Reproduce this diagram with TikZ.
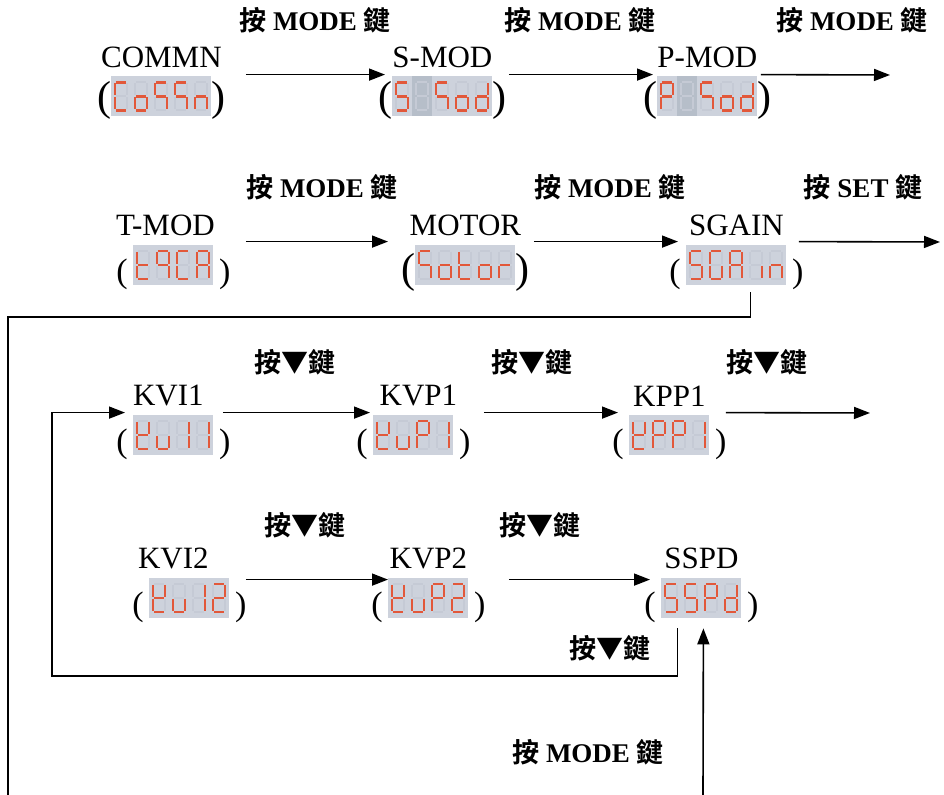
\documentclass[tikz,border=0pt]{standalone}
\usepackage{fontspec}
\setmainfont{Liberation Serif}
\newfontfamily\cjk[BoldFont={Noto Sans CJK TC Bold}]{Noto Sans CJK TC}
\usetikzlibrary{positioning,arrows.meta}

\definecolor{lcdback}{RGB}{205,210,220}
\definecolor{lcddark}{RGB}{182,190,201}
\definecolor{segred}{RGB}{226,88,58}
\definecolor{segdim}{RGB}{197,202,213}

\tikzset{
  lcd/.style={fill=lcdback, inner sep=0pt, minimum height=20pt, anchor=west},
  segon/.style={draw=segred, line width=1.4pt},
  segoff/.style={draw=segdim, line width=1pt},
  tag/.style={font=\fontsize{15.5}{17}\selectfont, inner sep=0pt},
  bigparen/.style={font=\fontsize{21}{23}\selectfont, inner sep=0pt, yshift=-2pt},
  paren/.style={font=\fontsize{17}{19}\selectfont, inner sep=0pt, yshift=-4.5pt},
  keylab/.style={font=\bfseries\fontsize{13.5}{15}\selectfont, inner sep=0pt},
  arr/.style={line width=0.8pt, -{Triangle[length=8pt,width=6pt]}},
  link/.style={line width=0.8pt}
}

% one segment of a digit
\newcommand{\segpath}[2]{%
  \if#1a\draw[#2] (-5,-14) -- (5,-14);\fi
  \if#1b\draw[#2] (6,-13) -- (6,-1);\fi
  \if#1c\draw[#2] (6,1) -- (6,13);\fi
  \if#1d\draw[#2] (-5,14) -- (5,14);\fi
  \if#1e\draw[#2] (-6,1) -- (-6,13);\fi
  \if#1f\draw[#2] (-6,-13) -- (-6,-1);\fi
  \if#1g\draw[#2] (-5,0) -- (5,0);\fi}
\def\segblank{x}
% one digit: centre, lit segments
\newcommand{\segchar}[2]{%
  \edef\seglist{#2}%
  \begin{scope}[shift={#1}]
    \ifx\seglist\segblank \fill[lcddark] (-10,-20) rectangle (10,20);\fi
    \foreach \s in {a,b,c,d,e,f,g} {\segpath{\s}{segoff}}
    \foreach \s in \seglist {\segpath{\s}{segon}}
  \end{scope}}
% digits of a display node
\newcommand{\segdisp}[2]{%
  \begin{scope}[shift={(#1.west)}]
    \foreach \c [count=\i] in {#2} {\segchar{(\i*20-10,0)}{\c}}
  \end{scope}}
\newcommand{\presskey}[1]{{\cjk 按} #1 {\cjk 鍵}}

\begin{document}
\begin{tikzpicture}[x=0.5pt,y=-0.5pt]
\useasboundingbox (0,0) rectangle (944,795);

%first row
\node[lcd, minimum width=50pt] (commn) at (111,96.5) {};
\segdisp{commn}{{a,d,e,f},{c,d,e,g},{a,c,f,g},{a,c,f,g},{c,e,g}}
\node[tag, above=4pt of commn] (commntag) {COMMN};
\node[bigparen, left=-0.5pt of commn] (commnl) {(};
\node[bigparen, right=-0.5pt of commn] (commnr) {)};

\node[lcd, minimum width=50pt] (smod) at (392,96.5) {};
\segdisp{smod}{{a,c,d,f,g},{x},{a,c,f,g},{c,d,e,g},{b,c,d,e,g}}
\node[tag, above=4pt of smod] (smodtag) {S-MOD};
\node[bigparen, left=-0.5pt of smod] (smodl) {(};
\node[bigparen, right=-0.5pt of smod] (smodr) {)};

\node[lcd, minimum width=50pt] (pmod) at (657,96.5) {};
\segdisp{pmod}{{a,b,e,f,g},{x},{a,c,f,g},{c,d,e,g},{b,c,d,e,g}}
\node[tag, above=4pt of pmod] (pmodtag) {P-MOD};
\node[bigparen, left=-0.5pt of pmod] (pmodl) {(};
\node[bigparen, right=-0.5pt of pmod] (pmodr) {)};

\coordinate (out1) at (890,75);
\draw[arr] ([shift={(34,-1.5)}]commn.north east) -- ([shift={(-7,-1.5)}]smod.north west);
\draw[arr] ([shift={(16,-1.5)}]smod.north east) -- ([shift={(-4,-1.5)}]pmod.north west);
\draw[arr] ([shift={(3,-1.5)}]pmod.north east) -- (out1);

\node[keylab] (key1) at (315,20) {\presskey{MODE}};
\node[keylab] (key2) at (580,20) {\presskey{MODE}};
\node[keylab] (key3) at (852,20) {\presskey{MODE}};

%second row
\node[lcd, minimum width=40pt] (tmod) at (133,265) {};
\segdisp{tmod}{{d,e,f,g},{a,b,c,f,g},{a,d,e,f},{a,b,c,e,f,g}}
\node[tag, above=4pt of tmod, xshift=-4pt] (tmodtag) {T-MOD};
\node[paren, left=2.5pt of tmod] (tmodl) {(};
\node[paren, right=2.5pt of tmod] (tmodr) {)};

\node[lcd, minimum width=50pt] (motor) at (415,265) {};
\segdisp{motor}{{a,c,f,g},{c,d,e,g},{d,e,f,g},{c,d,e,g},{e,g}}
\node[tag, above=4pt of motor] (motortag) {MOTOR};
\node[bigparen, left=-0.5pt of motor, yshift=-1.5pt] (motorl) {(};
\node[bigparen, right=-0.5pt of motor, yshift=-1.5pt] (motorr) {)};

\node[lcd, minimum width=50pt] (sgain) at (686,265) {};
\segdisp{sgain}{{a,c,d,f,g},{a,c,d,e,f},{a,b,c,e,f,g},{c},{c,e,g}}
\node[tag, above=4pt of sgain] (sgaintag) {SGAIN};
\node[paren, left=2.5pt of sgain] (sgainl) {(};
\node[paren, right=2.5pt of sgain] (sgainr) {)};

\coordinate (out2) at (940,242);
\draw[arr] ([shift={(32,-3)}]tmod.north east) -- ([shift={(-27,-3)}]motor.north west);
\draw[arr] ([shift={(18,-3)}]motor.north east) -- ([shift={(-8,-3)}]sgain.north west);
\draw[arr] ([shift={(12,-3)}]sgain.north east) -- (out2);

\node[keylab] (key4) at (322,187) {\presskey{MODE}};
\node[keylab] (key5) at (610,187) {\presskey{MODE}};
\node[keylab] (key6) at (863,187) {\presskey{SET}};

%back to the left edge
\coordinate (backcorner) at (8,317);
\coordinate (backend) at (8,795);
\draw[link] ([shift={(14,7)}]sgain.south) |- (backcorner) -- (backend);

%third row
\node[lcd, minimum width=40pt] (kvi1) at (133,435) {};
\segdisp{kvi1}{{b,d,e,f,g},{c,d,e},{b,c},{b,c}}
\node[tag, above=4pt of kvi1, xshift=-2.5pt] (kvi1tag) {KVI1};
\node[paren, left=2.5pt of kvi1] (kvi1l) {(};
\node[paren, right=2.5pt of kvi1] (kvi1r) {)};

\node[lcd, minimum width=40pt] (kvp1) at (373,435) {};
\segdisp{kvp1}{{b,d,e,f,g},{c,d,e},{a,b,e,f,g},{b,c}}
\node[tag, above=4pt of kvp1, xshift=2.5pt] (kvp1tag) {KVP1};
\node[paren, left=2.5pt of kvp1] (kvp1l) {(};
\node[paren, right=2.5pt of kvp1] (kvp1r) {)};

\node[lcd, minimum width=40pt] (kpp1) at (629,435) {};
\segdisp{kpp1}{{b,d,e,f,g},{a,b,e,f,g},{a,b,e,f,g},{b,c}}
\node[tag, above=4pt of kpp1] (kpp1tag) {KPP1};
\node[paren, left=2.5pt of kpp1] (kpp1l) {(};
\node[paren, right=2.5pt of kpp1] (kpp1r) {)};

\coordinate (out3) at (870,413);
\draw[arr] ([shift={(9,-2)}]kvi1.north east) -- ([shift={(-3,-2)}]kvp1.north west);
\draw[arr] ([shift={(30,-2)}]kvp1.north east) -- ([shift={(-11,-2)}]kpp1.north west);
\draw[arr] ([shift={(16,-2)}]kpp1.north east) -- (out3);

\node[keylab] (key7) at (295,362) {\cjk 按▼鍵};
\node[keylab] (key8) at (532,362) {\cjk 按▼鍵};
\node[keylab] (key9) at (767,362) {\cjk 按▼鍵};

%fourth row
\node[lcd, minimum width=40pt] (kvi2) at (149,598) {};
\segdisp{kvi2}{{b,d,e,f,g},{c,d,e},{b,c},{a,b,d,e,g}}
\node[tag, above=4pt of kvi2, xshift=-8pt] (kvi2tag) {KVI2};
\node[paren, left=2.5pt of kvi2] (kvi2l) {(};
\node[paren, right=2.5pt of kvi2] (kvi2r) {)};

\node[lcd, minimum width=40pt] (kvp2) at (388,598) {};
\segdisp{kvp2}{{b,d,e,f,g},{c,d,e},{a,b,e,f,g},{a,b,d,e,g}}
\node[tag, above=4pt of kvp2] (kvp2tag) {KVP2};
\node[paren, left=2.5pt of kvp2] (kvp2l) {(};
\node[paren, right=2.5pt of kvp2] (kvp2r) {)};

\node[lcd, minimum width=40pt] (sspd) at (661,598) {};
\segdisp{sspd}{{a,c,d,f,g},{a,c,d,f,g},{a,b,e,f,g},{b,c,d,e,g}}
\node[tag, above=4pt of sspd] (sspdtag) {SSPD};
\node[paren, left=2.5pt of sspd] (sspdl) {(};
\node[paren, right=2.5pt of sspd] (sspdr) {)};

\draw[arr] ([shift={(16,2)}]kvi2.north east) -- ([shift={(0,2)}]kvp2.north west);
\draw[arr] ([shift={(40,2)}]kvp2.north east) -- ([shift={(-11,2)}]sspd.north west);

\node[keylab] (key10) at (305,525) {\cjk 按▼鍵};
\node[keylab] (key11) at (540,525) {\cjk 按▼鍵};

%loop back to KVI1
\coordinate (loopcorner) at (52,676);
\draw[arr] ([shift={(-24,10)}]sspd.south) |- (loopcorner) |- ([shift={(-8,-2)}]kvi1.north west);
\node[keylab] (key12) at (610,648) {\cjk 按▼鍵};

%MODE key into SSPD
\coordinate (modein) at (703,795);
\draw[arr] (modein) -- ([shift={(2,10)}]sspd.south);
\node[keylab] (key13) at (588,752) {\presskey{MODE}};

\end{tikzpicture}
\end{document}
